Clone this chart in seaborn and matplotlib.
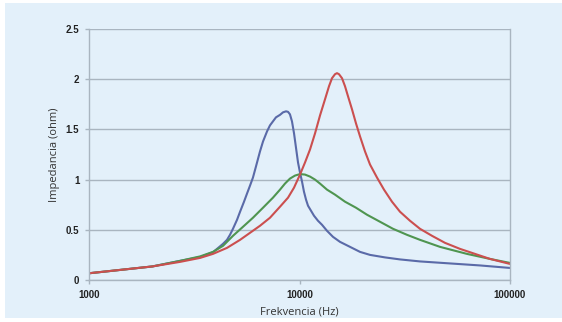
import matplotlib
matplotlib.use("Agg")
import matplotlib.pyplot as plt
from matplotlib.patches import Rectangle
from matplotlib.ticker import NullLocator, FixedLocator, FixedFormatter
import pandas as pd
import seaborn as sns

# Impedance vs. frequency for three circuits
freq_blue = [1000, 1400, 2000, 2700, 3400, 3900, 4330, 4525, 4675, 4830, 5050, 5220,
             5450, 5630, 5820, 6010, 6210, 6490, 6710, 7010, 7240, 7480, 7730, 8080,
             8350, 8630, 8820, 9010, 9210, 9420, 9620, 9840, 10055, 10280, 10500,
             10740, 10975, 11340, 11720, 12240, 12790, 13510, 14420, 15570, 17380,
             19390, 21630, 25480, 30020, 37360, 51880, 72040, 100000]
imp_blue = [0.067, 0.10, 0.135, 0.19, 0.23, 0.28, 0.36, 0.40, 0.45, 0.51, 0.60, 0.68,
            0.78, 0.86, 0.94, 1.02, 1.13, 1.28, 1.38, 1.48, 1.54, 1.58, 1.62, 1.645,
            1.67, 1.68, 1.675, 1.65, 1.58, 1.46, 1.32, 1.17, 1.07, 0.98, 0.88,
            0.80, 0.74, 0.69, 0.64, 0.59, 0.55, 0.49, 0.43, 0.38, 0.33,
            0.28, 0.25, 0.225, 0.205, 0.185, 0.165, 0.145, 0.12]

freq_green = [1000, 1400, 2000, 2700, 3370, 3880, 4330, 4830, 5390, 6010, 6710, 7480,
              8080, 8530, 9010, 9520, 10055, 10620, 11220, 11850, 12520, 13510, 14750,
              16450, 18550, 20930, 24130, 27810, 32410, 37360, 46500, 62480, 80350,
              100000]
imp_green = [0.067, 0.10, 0.135, 0.19, 0.235, 0.28, 0.34, 0.44, 0.53, 0.62, 0.72, 0.82,
             0.90, 0.96, 1.01, 1.04, 1.055, 1.05, 1.03, 1.00, 0.96, 0.90, 0.85,
             0.78, 0.72, 0.65, 0.58, 0.51, 0.45, 0.40, 0.33, 0.26, 0.21,
             0.17]

freq_red = [1000, 1400, 2000, 2700, 3370, 3880, 4525, 5220, 5820, 6490, 7240, 8080,
            8820, 9420, 10055, 10620, 11220, 11850, 12520, 13220, 13810, 14270, 14750,
            15070, 15400, 15920, 16450, 17000, 17760, 18550, 19390, 20480, 21630,
            23350, 25200, 27500, 30020, 33490, 37360, 42620, 49120, 57880, 68200,
            80350, 100000]
imp_red = [0.067, 0.10, 0.135, 0.18, 0.22, 0.26, 0.32, 0.40, 0.47, 0.54, 0.62, 0.73,
           0.82, 0.92, 1.05, 1.17, 1.30, 1.46, 1.64, 1.80, 1.93, 2.01, 2.05,
           2.06, 2.05, 2.01, 1.93, 1.83, 1.70, 1.56, 1.43, 1.28, 1.15,
           1.02, 0.90, 0.78, 0.68, 0.59, 0.51, 0.44, 0.37, 0.31, 0.26,
           0.21, 0.16]

x_ticks = [1000, 10000, 100000]
x_tick_labels = ["1000", "10000", "100000"]
y_ticks = [0, 0.5, 1, 1.5, 2, 2.5]
y_tick_labels = ["0", "0.5", "1", "1.5", "2", "2.5"]

df = pd.concat([
    pd.DataFrame({"freq": freq_blue, "imp": imp_blue, "series": "A"}),
    pd.DataFrame({"freq": freq_green, "imp": imp_green, "series": "B"}),
    pd.DataFrame({"freq": freq_red, "imp": imp_red, "series": "C"}),
], ignore_index=True)

palette = {"A": "#5a6aa8", "B": "#4f9550", "C": "#cb4f4f"}
bg = "#e3f0fa"

sns.set_theme(style="white")
plt.rcParams["font.family"] = ["Open Sans", "DejaVu Sans"]

fig = plt.figure(figsize=(5.62, 3.22), dpi=100, facecolor="white")
fig.patches.append(Rectangle((5 / 562, 4 / 322), 557 / 562, 315 / 322,
                             transform=fig.transFigure, facecolor=bg,
                             edgecolor="none", zorder=-10))
ax = fig.add_axes([89 / 562, 1 - 280 / 322, 421 / 562, 251 / 322])
ax.set_facecolor(bg)

sns.lineplot(data=df, x="freq", y="imp", hue="series", palette=palette,
             estimator=None, linewidth=1.5, legend=False, ax=ax)

ax.set_xscale("log")
ax.set_xlim(1000, 100000)
ax.set_ylim(0, 2.5)
ax.xaxis.set_major_locator(FixedLocator(x_ticks))
ax.xaxis.set_major_formatter(FixedFormatter(x_tick_labels))
ax.xaxis.set_minor_locator(NullLocator())
ax.set_yticks(y_ticks)
ax.set_yticklabels(y_tick_labels)

grid_c = "#a9b5c0"
ax.grid(axis="y", color=grid_c, linewidth=1.0)
ax.grid(axis="x", visible=False)
ax.set_axisbelow(True)
for side in ["left", "right", "bottom"]:
    ax.spines[side].set_visible(True)
    ax.spines[side].set_color(grid_c)
    ax.spines[side].set_linewidth(1.0)
ax.spines["top"].set_visible(False)

ax.tick_params(axis="both", which="major", direction="out", length=3,
               width=1.0, color=grid_c, labelsize=7, pad=4, labelcolor="#222222",
               bottom=True, left=True)
for lab in ax.get_xticklabels() + ax.get_yticklabels():
    lab.set_fontweight("bold")
    lab.set_family(["Liberation Sans", "DejaVu Sans"])

ax.set_xlabel("Frekvencia (Hz)", fontsize=8, color="#333333")
ax.set_ylabel("Impedancia (ohm)", fontsize=8, color="#333333")
ax.xaxis.set_label_coords(0.5, -(312 - 280) / 251, transform=ax.transAxes)
ax.yaxis.set_label_coords(-(89 - 55) / 421, 0.5, transform=ax.transAxes)
ax.xaxis.label.set_va("center")
ax.yaxis.label.set_va("center")

fig.savefig("out.png", dpi=100, facecolor="white")
